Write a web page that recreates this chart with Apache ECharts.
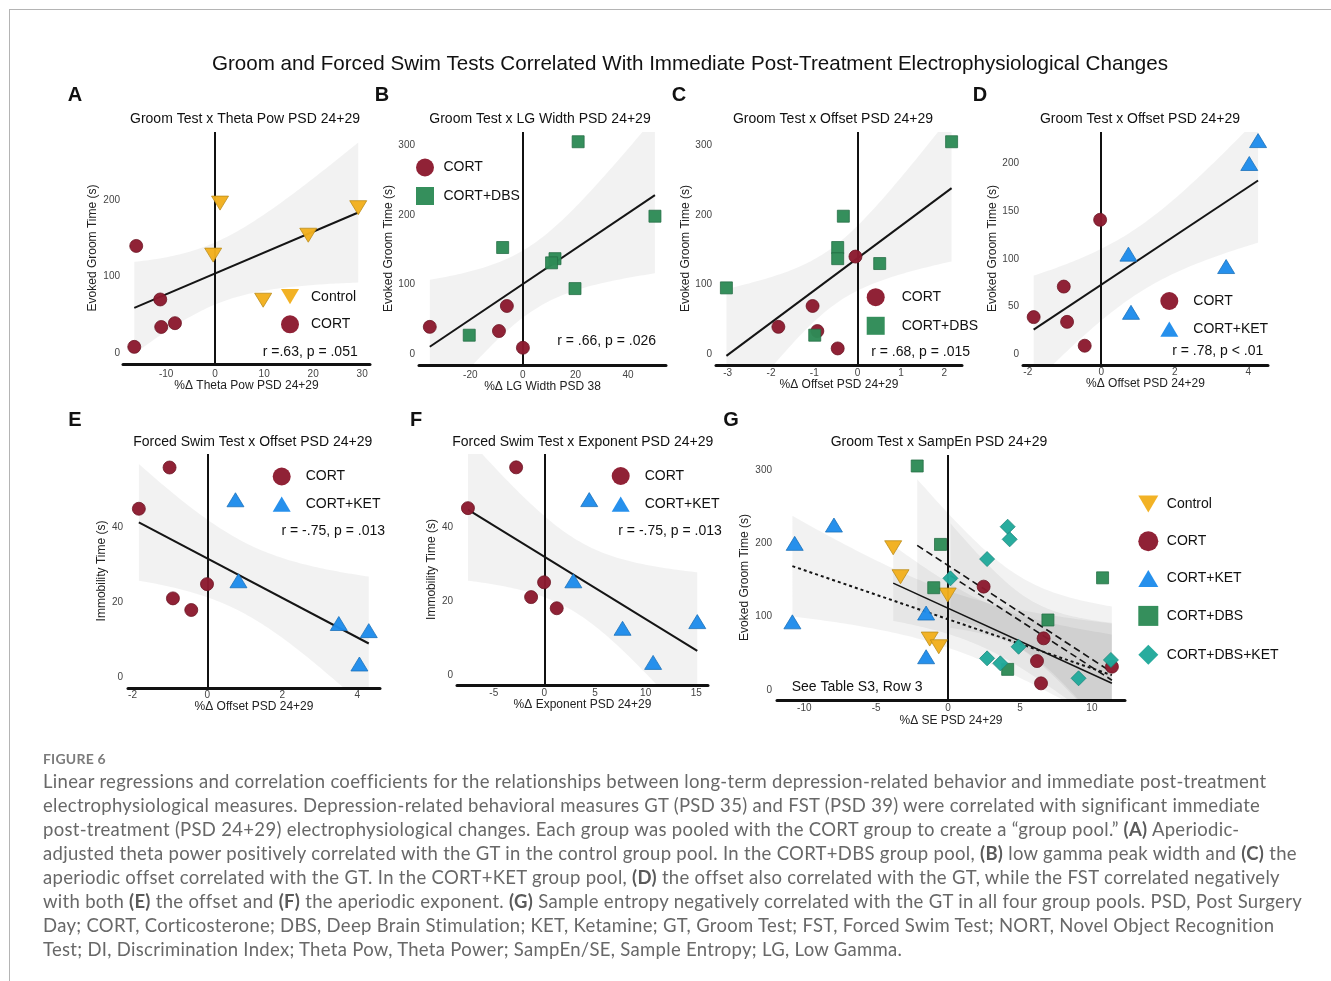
<!DOCTYPE html>
<html>
<head>
<meta charset="utf-8">
<title>Figure 6</title>
<script src="https://cdn.jsdelivr.net/npm/echarts@6/dist/echarts.min.js"></script>
<style>
  html, body { margin: 0; padding: 0; background: #fff; }
  #frame { position: absolute; left: 9px; top: 9px; width: 1322px; height: 972px;
           border-top: 1px solid #b4b4b4; border-left: 1px solid #b4b4b4; box-sizing: border-box; }
  #chart { position: absolute; left: 0; top: 0; width: 1331px; height: 981px; }
  #caption { position: absolute; left: 43px; top: 749px; font-family: Lato, "Open Sans", sans-serif; color: #686868; }
  #caption .fig { font-size: 14px; font-weight: 700; color: #7c7c7c; height: 20px; line-height: 20px; letter-spacing: 0.2px; }
  #caption .ln { font-size: 18.5px; letter-spacing: 0.3px; height: 24px; line-height: 24px; white-space: nowrap; }
  #caption b { font-weight: 700; color: #5a5a5a; }
</style>
</head>
<body>
<div id="frame"></div>
<div id="chart"></div>
<div id="caption">
  <div class="fig">FIGURE 6</div>
  <div class="ln">Linear regressions and correlation coefficients for the relationships between long-term depression-related behavior and immediate post-treatment</div>
  <div class="ln">electrophysiological measures. Depression-related behavioral measures GT (PSD 35) and FST (PSD 39) were correlated with significant immediate</div>
  <div class="ln">post-treatment (PSD 24+29) electrophysiological changes. Each group was pooled with the CORT group to create a “group pool.” <b>(A)</b> Aperiodic-</div>
  <div class="ln">adjusted theta power positively correlated with the GT in the control group pool. In the CORT+DBS group pool, <b>(B)</b> low gamma peak width and <b>(C)</b> the</div>
  <div class="ln">aperiodic offset correlated with the GT. In the CORT+KET group pool, <b>(D)</b> the offset also correlated with the GT, while the FST correlated negatively</div>
  <div class="ln">with both <b>(E)</b> the offset and <b>(F)</b> the aperiodic exponent. <b>(G)</b> Sample entropy negatively correlated with the GT in all four group pools. PSD, Post Surgery</div>
  <div class="ln">Day; CORT, Corticosterone; DBS, Deep Brain Stimulation; KET, Ketamine; GT, Groom Test; FST, Forced Swim Test; NORT, Novel Object Recognition</div>
  <div class="ln">Test; DI, Discrimination Index; Theta Pow, Theta Power; SampEn/SE, Sample Entropy; LG, Low Gamma.</div>
</div>
<script>
// ---------- Panel A: Groom Test x Theta Pow PSD 24+29 ----------
const aControlX = [1.0, -0.4, 19.0, 29.2, 9.8];
const aControlY = [196, 128, 154, 190, 69];
const aCortX = [-16.1, -11.2, -11.0, -8.2, -16.5];
const aCortY = [140, 70, 34, 39, 8];
const aXTicks = [-10, 0, 10, 20, 30];
const aYTicks = [0, 100, 200];

// ---------- Panel B: Groom Test x LG Width ----------
const bCortX = [-35.4, -6.1, -9.1, 0.0];
const bCortY = [39, 69, 33, 9];
const bDbsX = [21.0, 50.2, -7.7, 12.2, 10.9, 19.8, -20.4];
const bDbsY = [305, 198, 153, 137, 131, 94, 27];
const bXTicks = [-20, 0, 20, 40];
const bYTicks = [0, 100, 200, 300];

// ---------- Panel C: Groom Test x Offset (DBS pool) ----------
const cCortX = [-0.05, -1.04, -1.83, -0.93, -0.46];
const cCortY = [140, 69, 39, 33, 8];
const cDbsX = [2.17, -3.03, -0.33, -0.46, -0.46, 0.51, -0.99];
const cDbsY = [305, 95, 198, 153, 137, 130, 27];
const cXTicks = [-3, -2, -1, 0, 1, 2];
const cYTicks = [0, 100, 200, 300];

// ---------- Panel D: Groom Test x Offset (KET pool) ----------
const dCortX = [-0.03, -1.02, -1.84, -0.93, -0.45];
const dCortY = [141, 71, 39, 34, 9];
const dKetX = [4.27, 4.03, 0.74, 3.40, 0.81];
const dKetY = [224, 200, 105, 92, 44];
const dXTicks = [-2, 0, 2, 4];
const dYTicks = [0, 50, 100, 150, 200];

// ---------- Panel E: Forced Swim Test x Offset ----------
const eCortX = [-1.01, -1.83, -0.01, -0.92, -0.43];
const eCortY = [56.0, 45.0, 24.9, 21.1, 18.0];
const eKetX = [0.75, 0.83, 3.51, 4.31, 4.06];
const eKetY = [47.4, 25.8, 14.4, 12.5, 3.6];
const eXTicks = [-2, 0, 2, 4];
const eYTicks = [0, 20, 40];

// ---------- Panel F: Forced Swim Test x Exponent ----------
const fCortX = [-2.79, -7.55, -0.03, -1.31, 1.22];
const fCortY = [56.2, 45.2, 25.2, 21.2, 18.2];
const fKetX = [4.43, 2.86, 7.72, 15.1, 10.74];
const fKetY = [47.5, 25.6, 12.8, 14.6, 3.6];
const fXTicks = [-5, 0, 5, 10, 15];
const fYTicks = [0, 20, 40];

// ---------- Panel G: Groom Test x SampEn, all four pools ----------
const gControlX = [-3.82, -3.31, -0.03, -1.28, -0.65];
const gControlY = [194, 154.5, 129.5, 69.5, 59];
const gCortX = [2.47, 6.64, 6.18, 6.46, 11.39];
const gCortY = [141, 70.5, 39.5, 9.1, 31.8];
const gKetX = [-10.67, -7.94, -10.83, -1.53, -1.53];
const gKetY = [200, 225, 93, 105, 45.4];
const gDbsX = [-2.15, -0.53, -1.0, 10.74, 6.94, 4.14];
const gDbsY = [305.5, 198.6, 139.5, 153, 95.5, 28.2];
const gDbsKetX = [4.14, 4.28, 2.71, 0.16, 4.9, 2.71, 3.63, 9.07, 11.32];
const gDbsKetY = [222.7, 205.5, 178.6, 152.3, 59, 43.2, 36.4, 16, 41];
const gXTicks = [-10, -5, 0, 5, 10];
const gYTicks = [0, 100, 200, 300];

// ---------- styling ----------
const FONT = '"Liberation Sans", Arial, Helvetica, sans-serif';
const INK = '#111';
const GROUPS = {
  'Control':      { symbol: 'triangle', rotate: 180, size: [17, 14], color: '#f2b01e', border: '#b98a17' },
  'CORT':         { symbol: 'circle',   rotate: 0,   size: 13,       color: '#8c1b2f', border: '#6a1422' },
  'CORT+KET':     { symbol: 'triangle', rotate: 0,   size: [17, 14], color: '#1f8ceb', border: '#1a6fb8' },
  'CORT+DBS':     { symbol: 'rect',     rotate: 0,   size: 12,       color: '#2e8b57', border: '#246d45' },
  'CORT+DBS+KET': { symbol: 'diamond',  rotate: 0,   size: 15,       color: '#21a99b', border: '#1a857a' }
};
const ICONS = {
  'Control': 'path://M0,0L20,0L10,17Z',
  'CORT': 'circle',
  'CORT+KET': 'path://M10,0L20,17L0,17Z',
  'CORT+DBS': 'rect',
  'CORT+DBS+KET': 'path://M10,0L20,10L10,20L0,10Z'
};
// two-sided 95% Student t critical values, by degrees of freedom
const T975 = [NaN, 12.706, 4.303, 3.182, 2.776, 2.571, 2.447, 2.365, 2.306, 2.262, 2.228,
  2.201, 2.179, 2.160, 2.145, 2.131, 2.120, 2.110, 2.101, 2.093, 2.086];

function cat(a, b) { return a.concat(b); }

// ordinary least squares fit with 95% confidence band of the mean
function olsFit(xs, ys) {
  const n = xs.length;
  const mx = xs.reduce((s, v) => s + v, 0) / n;
  const my = ys.reduce((s, v) => s + v, 0) / n;
  let sxx = 0, sxy = 0;
  for (let i = 0; i < n; i++) { sxx += (xs[i] - mx) ** 2; sxy += (xs[i] - mx) * (ys[i] - my); }
  const b = sxy / sxx, a = my - b * mx;
  let sse = 0;
  for (let i = 0; i < n; i++) sse += (ys[i] - a - b * xs[i]) ** 2;
  const s = Math.sqrt(sse / (n - 2));
  const t = T975[n - 2];
  const xmin = Math.min.apply(null, xs), xmax = Math.max.apply(null, xs);
  const line = [[xmin, a + b * xmin], [xmax, a + b * xmax]];
  const band = [];
  const steps = 80;
  for (let k = 0; k <= steps; k++) {
    const x = xmin + (xmax - xmin) * k / steps;
    const yhat = a + b * x;
    const hw = t * s * Math.sqrt(1 / n + (x - mx) ** 2 / sxx);
    band.push([x, yhat - hw, yhat + hw]);
  }
  return { line, band };
}

const panels = [
  { grid: { left: 123, top: 132, width: 247, height: 232 }, x: [-18.8, 31.6], y: [-14.4, 289],
    xt: aXTicks, yt: aYTicks, xName: '%Δ Theta Pow PSD 24+29', yName: 'Evoked Groom Time (s)',
    xNameGap: 14, yNameGap: 24, xLabMargin: 5, yLabMargin: 3,
    groups: [['Control', aControlX, aControlY], ['CORT', aCortX, aCortY]],
    pools: [{ xs: cat(aControlX, aCortX), ys: cat(aControlY, aCortY), dash: 'solid', width: 2 }],
    title: ['Groom Test x Theta Pow PSD 24+29', 245, 119],
    legend: { left: 281, top: 289, gap: 11, pad: 7, size: 18 },
    stat: ['r =.63, p = .051', 357.7, 351.7, 'right'] },
  { grid: { left: 419, top: 132, width: 247, height: 233 }, x: [-39.5, 54.4], y: [-15.8, 319],
    xt: bXTicks, yt: bYTicks, xName: '%Δ LG Width PSD 38', yName: 'Evoked Groom Time (s)',
    xNameGap: 13, yNameGap: 22, xLabMargin: 5, yLabMargin: 4,
    groups: [['CORT', bCortX, bCortY], ['CORT+DBS', bDbsX, bDbsY]],
    pools: [{ xs: cat(bCortX, bDbsX), ys: cat(bCortY, bDbsY), dash: 'solid', width: 2 }],
    title: ['Groom Test x LG Width PSD 24+29', 540, 119],
    legend: { left: 416, top: 158.5, gap: 10.5, pad: 4.5, size: 18 },
    stat: ['r = .66, p = .026', 656, 341, 'right'] },
  { grid: { left: 716, top: 132, width: 246, height: 233 }, x: [-3.27, 2.41], y: [-15.8, 319],
    xt: cXTicks, yt: cYTicks, xName: '%Δ Offset PSD 24+29', yName: 'Evoked Groom Time (s)',
    xNameGap: 13, yNameGap: 22, xLabMargin: 3, yLabMargin: 4,
    groups: [['CORT', cCortX, cCortY], ['CORT+DBS', cDbsX, cDbsY]],
    pools: [{ xs: cat(cCortX, cDbsX), ys: cat(cCortY, cDbsY), dash: 'solid', width: 2 }],
    title: ['Groom Test x Offset PSD 24+29', 833, 119],
    legend: { left: 866.7, top: 288.2, gap: 10.6, pad: 12, size: 18 },
    stat: ['r = .68, p = .015', 970, 351.7, 'right'] },
  { grid: { left: 1023, top: 132, width: 245, height: 233 }, x: [-2.13, 4.54], y: [-11.2, 233],
    xt: dXTicks, yt: dYTicks, xName: '%Δ Offset PSD 24+29', yName: 'Evoked Groom Time (s)',
    xNameGap: 13, yNameGap: 24, xLabMargin: 2, yLabMargin: 4,
    groups: [['CORT', dCortX, dCortY], ['CORT+KET', dKetX, dKetY]],
    pools: [{ xs: cat(dCortX, dKetX), ys: cat(dCortY, dKetY), dash: 'solid', width: 2 }],
    title: ['Groom Test x Offset PSD 24+29', 1140, 119],
    legend: { left: 1160.3, top: 292, gap: 11.5, pad: 10, size: 18 },
    stat: ['r = .78, p < .01', 1263.3, 350.7, 'right'] },
  { grid: { left: 128, top: 454, width: 252, height: 234 }, x: [-2.12, 4.61], y: [-2.8, 59.6],
    xt: eXTicks, yt: eYTicks, xName: '%Δ Offset PSD 24+29', yName: 'Immobility Time (s)',
    xNameGap: 13, yNameGap: 18, xLabMargin: 2, yLabMargin: 5,
    groups: [['CORT', eCortX, eCortY], ['CORT+KET', eKetX, eKetY]],
    pools: [{ xs: cat(eCortX, eKetX), ys: cat(eCortY, eKetY), dash: 'solid', width: 2 }],
    title: ['Forced Swim Test x Offset PSD 24+29', 252.7, 442],
    legend: { left: 272.7, top: 467.5, gap: 11, pad: 10, size: 18 },
    stat: ['r = -.75, p = .013', 385, 531, 'right'] },
  { grid: { left: 457, top: 454, width: 251, height: 231 }, x: [-8.63, 16.16], y: [-2.5, 59.8],
    xt: fXTicks, yt: fYTicks, xName: '%Δ Exponent PSD 24+29', yName: 'Immobility Time (s)',
    xNameGap: 13, yNameGap: 17.7, xLabMargin: 3, yLabMargin: 4,
    groups: [['CORT', fCortX, fCortY], ['CORT+KET', fKetX, fKetY]],
    pools: [{ xs: cat(fCortX, fKetX), ys: cat(fCortY, fKetY), dash: 'solid', width: 2 }],
    title: ['Forced Swim Test x Exponent PSD 24+29', 582.7, 442],
    legend: { left: 611.7, top: 467, gap: 11.5, pad: 10, size: 18 },
    stat: ['r = -.75, p = .013', 618.3, 531, 'left'] },
  { grid: { left: 777, top: 455, width: 348, height: 245 }, x: [-11.9, 12.3], y: [-13.6, 320.5],
    xt: gXTicks, yt: gYTicks, xName: '%Δ SE PSD 24+29', yName: 'Evoked Groom Time (s)',
    xNameGap: 15, yNameGap: 26, xLabMargin: 3, yLabMargin: 5,
    groups: [['Control', gControlX, gControlY], ['CORT', gCortX, gCortY], ['CORT+KET', gKetX, gKetY],
             ['CORT+DBS', gDbsX, gDbsY], ['CORT+DBS+KET', gDbsKetX, gDbsKetY]],
    pools: [
      { xs: cat(gControlX, gCortX), ys: cat(gControlY, gCortY), dash: 'solid', width: 1.6 },
      { xs: cat(gKetX, gCortX), ys: cat(gKetY, gCortY), dash: [3, 3], width: 2 },
      { xs: cat(gDbsX, gCortX), ys: cat(gDbsY, gCortY), dash: [7, 4], width: 1.6 },
      { xs: cat(gDbsKetX, gCortX), ys: cat(gDbsKetY, gCortY), dash: [7, 4], width: 1.6 }
    ],
    title: ['Groom Test x SampEn PSD 24+29', 939, 442],
    legend: { left: 1138.3, top: 495.5, gap: 18.8, pad: 3.5, size: 20 },
    stat: ['See Table S3, Row 3', 791.7, 686.7, 'left'] }
];

const grids = [], xAxes = [], yAxes = [], series = [], legends = [], graphics = [];

function textEl(text, x, y, size, align, weight, color) {
  return { type: 'text', silent: true, z: 50,
    style: { text: text, x: x, y: y, font: (weight || 'normal') + ' ' + size + 'px ' + FONT,
             fill: color || INK, align: align, verticalAlign: 'middle',
             textAlign: align, textVerticalAlign: 'middle' } };
}

panels.forEach((p, i) => {
  grids.push(Object.assign({ containLabel: false }, p.grid));
  xAxes.push({
    gridIndex: i, type: 'value', min: p.x[0], max: p.x[1],
    axisLine: { show: true, onZero: false, lineStyle: { color: INK, width: 3 } },
    axisTick: { show: false }, splitLine: { show: false },
    axisLabel: { customValues: p.xt, fontSize: 10, color: '#444', margin: p.xLabMargin, fontFamily: FONT },
    name: p.xName, nameLocation: 'middle', nameGap: p.xNameGap,
    nameTextStyle: { fontSize: 12, color: '#222', fontFamily: FONT }
  });
  yAxes.push({
    gridIndex: i, type: 'value', min: p.y[0], max: p.y[1],
    axisLine: { show: false }, axisTick: { show: false }, splitLine: { show: false },
    axisLabel: { customValues: p.yt, fontSize: 10, color: '#444', margin: p.yLabMargin, align: 'right', fontFamily: FONT },
    name: p.yName, nameLocation: 'middle', nameGap: p.yNameGap,
    nameTextStyle: { fontSize: 12, color: '#222', fontFamily: FONT }
  });

  // regression bands and lines, one per group pool
  p.pools.forEach((pool, k) => {
    const f = olsFit(pool.xs, pool.ys);
    const band = f.band;
    series.push({
      type: 'custom', name: 'ci', xAxisIndex: i, yAxisIndex: i, clip: true, silent: true, z: 1,
      data: [[band[0][0], band[0][1]]],
      renderItem: function (params, api) {
        const pts = [];
        band.forEach(b => pts.push(api.coord([b[0], b[2]])));
        for (let j = band.length - 1; j >= 0; j--) pts.push(api.coord([band[j][0], band[j][1]]));
        return { type: 'polygon', shape: { points: pts }, style: { fill: 'rgba(0,0,0,0.05)' } };
      }
    });
    const lineSeries = {
      type: 'line', name: 'fit', xAxisIndex: i, yAxisIndex: i, data: f.line,
      symbol: 'none', silent: true, z: 3, clip: true,
      lineStyle: { color: '#151515', width: pool.width, type: pool.dash }
    };
    if (k === 0) {
      lineSeries.markLine = {
        silent: true, symbol: 'none', label: { show: false },
        lineStyle: { color: INK, width: 2, type: 'solid' },
        data: [{ xAxis: 0 }]
      };
    }
    series.push(lineSeries);
  });

  // group scatter points
  p.groups.forEach(g => {
    const st = GROUPS[g[0]];
    series.push({
      type: 'scatter', name: g[0], xAxisIndex: i, yAxisIndex: i, z: 5,
      symbol: st.symbol, symbolRotate: st.rotate, symbolSize: st.size,
      itemStyle: { color: st.color, borderColor: st.border, borderWidth: 0.8, opacity: 0.97 },
      data: g[1].map((x, j) => [x, g[2][j]])
    });
  });

  // legend
  const names = p.groups.map(g => g[0]);
  legends.push({
    left: p.legend.left, top: p.legend.top, orient: 'vertical', padding: 0,
    itemWidth: p.legend.size, itemHeight: p.legend.size, itemGap: p.legend.gap,
    selectedMode: false, symbolKeepAspect: true,
    itemStyle: { borderWidth: 0 },
    textStyle: { fontSize: 14, color: INK, fontFamily: FONT, padding: [0, 0, 0, p.legend.pad] },
    data: names.map(n => ({ name: n, icon: ICONS[n], itemStyle: { color: GROUPS[n].color, borderWidth: 0 } }))
  });

  graphics.push(textEl(p.title[0], p.title[1], p.title[2], 14, 'center'));
  graphics.push(textEl(p.stat[0], p.stat[1], p.stat[2], 14, p.stat[3]));
});

// figure heading and panel letters
graphics.push(textEl('Groom and Forced Swim Tests Correlated With Immediate Post-Treatment Electrophysiological Changes', 690, 64, 20.6, 'center'));
[['A', 75, 95], ['B', 382, 95], ['C', 679, 95], ['D', 980, 95], ['E', 75, 420], ['F', 416, 420], ['G', 731, 420]]
  .forEach(l => graphics.push(textEl(l[0], l[1], l[2], 20, 'center', 'bold')));

const chart = echarts.init(document.getElementById('chart'), null, { renderer: 'canvas' });
chart.setOption({
  animation: false,
  backgroundColor: 'transparent',
  grid: grids, xAxis: xAxes, yAxis: yAxes,
  legend: legends,
  series: series,
  graphic: { elements: graphics }
});
</script>
</body>
</html>
